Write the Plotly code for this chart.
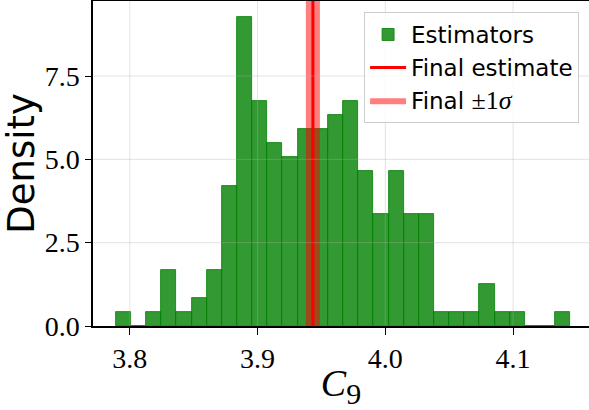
import numpy as np
import plotly.graph_objects as go

# ---- data ----
bin_start = 3.789
bin_width = 0.011862
counts = [1, 0, 1, 4, 1, 2, 4, 10, 22, 16, 13, 12, 14, 14, 15,
          16, 11, 8, 11, 8, 8, 1, 1, 1, 3, 1, 1, 0, 0, 1]
final_estimate = 3.9433
final_sigma = 0.0055
x_ticks = [3.8, 3.9, 4.0, 4.1]
x_ticklabels = ["3.8", "3.9", "4.0", "4.1"]
y_ticks = [0.0, 2.5, 5.0, 7.5]
y_ticklabels = ["0.0", "2.5", "5.0", "7.5"]

centers = bin_start + bin_width * (np.arange(len(counts)) + 0.5)
density = np.array(counts) / (sum(counts) * bin_width)

fig = go.Figure()
fig.add_trace(go.Bar(
    x=centers, y=density, width=bin_width, name="Estimators",
    marker=dict(color="rgba(0,128,0,0.8)", line=dict(color="green", width=0.8)),
    legendrank=1,
))
lo, hi = final_estimate - final_sigma, final_estimate + final_sigma
fig.add_trace(go.Scatter(
    x=[lo, hi, hi, lo, lo], y=[0, 0, 1, 1, 0], yaxis="y2", mode="lines",
    fill="toself", fillcolor="rgba(255,0,0,0.5)", line=dict(width=0, color="rgba(255,0,0,0.5)"),
    name="Final <span style='font-family:Liberation Serif;font-size:26px'>±1<i>σ</i></span>",
    legendrank=3, hoverinfo="skip",
))
fig.add_trace(go.Scatter(
    x=[final_estimate, final_estimate], y=[0, 1], yaxis="y2", mode="lines",
    line=dict(color="red", width=3), name="Final estimate", legendrank=2,
))

grid_color = "rgba(176,176,176,0.35)"
for t in x_ticks:
    fig.add_shape(type="line", xref="x", yref="paper", x0=t, x1=t, y0=0, y1=1,
                  line=dict(color=grid_color, width=1), layer="above")
for t in y_ticks[1:]:
    fig.add_shape(type="line", xref="paper", yref="y", x0=0, x1=1, y0=t, y1=t,
                  line=dict(color=grid_color, width=1), layer="above")

fig.update_layout(
    width=589, height=410,
    margin=dict(l=93, r=0, t=1, b=84, pad=0),
    plot_bgcolor="white", paper_bgcolor="white",
    bargap=0, showlegend=True,
    legend=dict(
        x=0.980, y=0.966, xanchor="right", yanchor="top",
        bgcolor="rgba(255,255,255,0.8)", bordercolor="#cccccc", borderwidth=1,
        font=dict(family="DejaVu Sans", size=23, color="black"),
        tracegroupgap=0, itemwidth=36,
    ),
    xaxis=dict(
        range=[3.7712, 4.1594], tickvals=x_ticks, ticktext=x_ticklabels,
        ticks="outside", ticklen=7, tickwidth=1.2, tickcolor="black",
        showline=True, linecolor="black", linewidth=1.5, mirror=True,
        showgrid=False, zeroline=False, automargin=False,
        tickfont=dict(family="Liberation Serif", size=28, color="black"),
        title=dict(text="<i>C</i><sub><span style='font-size:30px'>9</span></sub>",
                   font=dict(family="Liberation Serif", size=38, color="black"),
                   standoff=14),
    ),
    yaxis=dict(
        range=[0, 9.75], tickvals=y_ticks, ticktext=y_ticklabels,
        ticks="outside", ticklen=6, tickwidth=1.2, tickcolor="black",
        showline=True, linecolor="black", linewidth=1.5, mirror=False,
        showgrid=False, zeroline=False, automargin=False,
        tickfont=dict(family="Liberation Serif", size=28, color="black"),
        title=dict(text="Density",
                   font=dict(family="DejaVu Sans", size=37, color="black"),
                   standoff=2),
    ),
    yaxis2=dict(overlaying="y", range=[0, 1], visible=False, fixedrange=True),
)

fig.write_html("out.html")
